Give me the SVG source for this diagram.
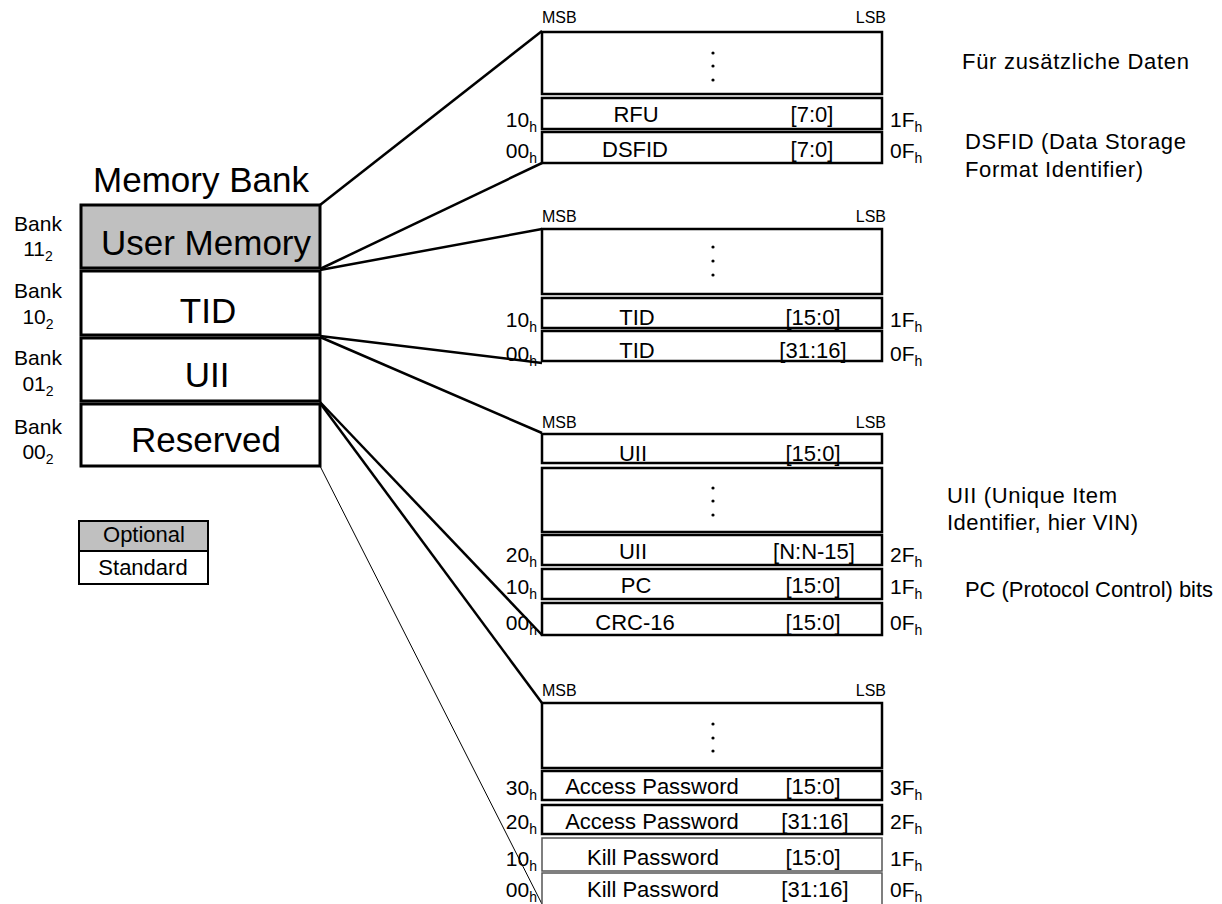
<svg xmlns="http://www.w3.org/2000/svg" width="1222" height="904" viewBox="0 0 1222 904">
<style>
.t{font-family:"Liberation Sans",Arial,sans-serif;fill:#000}
.box{fill:#fff;stroke:#000;stroke-width:3}
.opt{fill:#c0c0c0}
.row{fill:#fff;stroke:#000;stroke-width:2.5}
.thin{stroke:#555;stroke-width:1.5}
.conn{stroke:#000;stroke-width:2.5;fill:none}
.cthin{stroke-width:1}
.big{font-size:35px}
.bank{font-size:21px;text-anchor:middle}
.rl{font-size:22px;text-anchor:middle}
.adl{font-size:21px;text-anchor:end}
.adr{font-size:21px}
.sb{font-size:16px}
.desc{font-size:22px}
.lg{font-size:22px;text-anchor:middle}
.dot{fill:#000}
</style>
<rect width="1222" height="904" fill="#fff"/>

<g id="connectors">
<line class="conn" x1="320" y1="205" x2="542" y2="31"/>
<line class="conn" x1="320" y1="269" x2="542" y2="163"/>
<line class="conn" x1="320" y1="270" x2="542" y2="229"/>
<line class="conn" x1="320" y1="336" x2="542" y2="363"/>
<line class="conn" x1="320" y1="337" x2="542" y2="433"/>
<line class="conn" x1="320" y1="402" x2="542" y2="635"/>
<line class="conn" x1="320" y1="403" x2="542" y2="703"/>
<line class="conn cthin" x1="320" y1="466" x2="544" y2="908"/>
</g>

<g id="memory-bank-title">
<text class="t big" x="201" y="192" text-anchor="middle">Memory Bank</text>
</g>

<g id="bank-user-memory">
<rect class="box opt" x="81" y="205" width="239" height="63"/>
<text class="t big" x="206" y="255" text-anchor="middle">User Memory</text>
<text class="t bank" x="38" y="231">Bank</text>
<text class="t bank" x="38" y="256">11<tspan font-size="14" dy="5">2</tspan></text>
</g>
<g id="bank-tid">
<rect class="box" x="81" y="271" width="239" height="64"/>
<text class="t big" x="208" y="323" text-anchor="middle">TID</text>
<text class="t bank" x="38" y="298">Bank</text>
<text class="t bank" x="38" y="324">10<tspan font-size="14" dy="5">2</tspan></text>
</g>
<g id="bank-uii">
<rect class="box" x="81" y="338" width="239" height="63"/>
<text class="t big" x="207" y="387" text-anchor="middle">UII</text>
<text class="t bank" x="38" y="365">Bank</text>
<text class="t bank" x="38" y="391">01<tspan font-size="14" dy="5">2</tspan></text>
</g>
<g id="bank-reserved">
<rect class="box" x="81" y="404" width="239" height="62"/>
<text class="t big" x="206" y="452" text-anchor="middle">Reserved</text>
<text class="t bank" x="38" y="434">Bank</text>
<text class="t bank" x="38" y="459">00<tspan font-size="14" dy="5">2</tspan></text>
</g>

<g id="legend">
<rect x="79" y="521" width="129" height="30" fill="#c0c0c0" stroke="#000" stroke-width="2"/>
<rect x="79" y="551" width="129" height="33" fill="#fff" stroke="#000" stroke-width="2"/>
<text class="t lg" x="144" y="542">Optional</text>
<text class="t lg" x="143" y="575">Standard</text>
</g>

<g id="block-user-memory">
<text class="t sb" x="542" y="23">MSB</text>
<text class="t sb" x="886" y="23" text-anchor="end">LSB</text>
<rect class="row" x="542" y="32" width="340" height="62"/>
<circle class="dot" cx="713" cy="53" r="1.6"/>
<circle class="dot" cx="713" cy="66" r="1.6"/>
<circle class="dot" cx="713" cy="80" r="1.6"/>
<rect class="row" x="542" y="98" width="340" height="31"/>
<text class="t rl" x="636" y="122">RFU</text>
<text class="t rl" x="812" y="122">[7:0]</text>
<rect class="row" x="542" y="132" width="340" height="31"/>
<text class="t rl" x="635" y="157">DSFID</text>
<text class="t rl" x="812" y="157">[7:0]</text>
<text class="t adl" x="537" y="127">10<tspan font-size="14" dy="5">h</tspan></text>
<text class="t adl" x="537" y="158">00<tspan font-size="14" dy="5">h</tspan></text>
<text class="t adr" x="890" y="127">1F<tspan font-size="14" dy="5">h</tspan></text>
<text class="t adr" x="890" y="158">0F<tspan font-size="14" dy="5">h</tspan></text>
</g>

<g id="block-tid">
<text class="t sb" x="542" y="222">MSB</text>
<text class="t sb" x="886" y="222" text-anchor="end">LSB</text>
<rect class="row" x="542" y="229" width="340" height="65"/>
<circle class="dot" cx="713" cy="247" r="1.6"/>
<circle class="dot" cx="713" cy="261" r="1.6"/>
<circle class="dot" cx="713" cy="275" r="1.6"/>
<rect class="row" x="542" y="298" width="340" height="30"/>
<text class="t rl" x="637" y="325">TID</text>
<text class="t rl" x="813" y="325">[15:0]</text>
<rect class="row" x="542" y="331" width="340" height="30"/>
<text class="t rl" x="637" y="358">TID</text>
<text class="t rl" x="813" y="358">[31:16]</text>
<text class="t adl" x="537" y="327">10<tspan font-size="14" dy="5">h</tspan></text>
<text class="t adl" x="537" y="361">00<tspan font-size="14" dy="5">h</tspan></text>
<text class="t adr" x="890" y="327">1F<tspan font-size="14" dy="5">h</tspan></text>
<text class="t adr" x="890" y="361">0F<tspan font-size="14" dy="5">h</tspan></text>
</g>

<g id="block-uii">
<text class="t sb" x="542" y="428">MSB</text>
<text class="t sb" x="886" y="428" text-anchor="end">LSB</text>
<rect class="row" x="542" y="434" width="340" height="29"/>
<text class="t rl" x="633" y="461">UII</text>
<text class="t rl" x="813" y="461">[15:0]</text>
<rect class="row" x="542" y="468" width="340" height="64"/>
<circle class="dot" cx="713" cy="488" r="1.6"/>
<circle class="dot" cx="713" cy="501" r="1.6"/>
<circle class="dot" cx="713" cy="515" r="1.6"/>
<rect class="row" x="542" y="535" width="340" height="30"/>
<text class="t rl" x="633" y="559">UII</text>
<text class="t rl" x="814" y="559">[N:N-15]</text>
<rect class="row" x="542" y="569" width="340" height="30"/>
<text class="t rl" x="636" y="593">PC</text>
<text class="t rl" x="813" y="593">[15:0]</text>
<rect class="row" x="542" y="603" width="340" height="32"/>
<text class="t rl" x="635" y="630">CRC-16</text>
<text class="t rl" x="813" y="630">[15:0]</text>
<text class="t adl" x="537" y="562">20<tspan font-size="14" dy="5">h</tspan></text>
<text class="t adl" x="537" y="594">10<tspan font-size="14" dy="5">h</tspan></text>
<text class="t adl" x="537" y="630">00<tspan font-size="14" dy="5">h</tspan></text>
<text class="t adr" x="890" y="562">2F<tspan font-size="14" dy="5">h</tspan></text>
<text class="t adr" x="890" y="594">1F<tspan font-size="14" dy="5">h</tspan></text>
<text class="t adr" x="890" y="630">0F<tspan font-size="14" dy="5">h</tspan></text>
</g>

<g id="block-reserved">
<text class="t sb" x="542" y="696">MSB</text>
<text class="t sb" x="886" y="696" text-anchor="end">LSB</text>
<rect class="row" x="542" y="703" width="340" height="65"/>
<circle class="dot" cx="713" cy="724" r="1.6"/>
<circle class="dot" cx="713" cy="738" r="1.6"/>
<circle class="dot" cx="713" cy="751" r="1.6"/>
<rect class="row" x="542" y="771" width="340" height="29"/>
<text class="t rl" x="652" y="794">Access Password</text>
<text class="t rl" x="813" y="794">[15:0]</text>
<rect class="row" x="542" y="805" width="340" height="29"/>
<text class="t rl" x="652" y="829">Access Password</text>
<text class="t rl" x="815" y="829">[31:16]</text>
<rect class="row thin" x="542" y="838" width="340" height="33"/>
<text class="t rl" x="653" y="865">Kill Password</text>
<text class="t rl" x="813" y="865">[15:0]</text>
<rect class="row thin" x="542" y="873" width="340" height="40"/>
<text class="t rl" x="653" y="897">Kill Password</text>
<text class="t rl" x="815" y="897">[31:16]</text>
<text class="t adl" x="537" y="795">30<tspan font-size="14" dy="5">h</tspan></text>
<text class="t adl" x="537" y="829">20<tspan font-size="14" dy="5">h</tspan></text>
<text class="t adl" x="537" y="866">10<tspan font-size="14" dy="5">h</tspan></text>
<text class="t adl" x="537" y="897">00<tspan font-size="14" dy="5">h</tspan></text>
<text class="t adr" x="890" y="795">3F<tspan font-size="14" dy="5">h</tspan></text>
<text class="t adr" x="890" y="829">2F<tspan font-size="14" dy="5">h</tspan></text>
<text class="t adr" x="890" y="866">1F<tspan font-size="14" dy="5">h</tspan></text>
<text class="t adr" x="890" y="897">0F<tspan font-size="14" dy="5">h</tspan></text>
</g>

<g id="descriptions">
<text class="t desc" x="962" y="69" textLength="227">Für zusätzliche Daten</text>
<text class="t desc" x="965" y="149" textLength="221">DSFID (Data Storage</text>
<text class="t desc" x="965" y="177" textLength="178">Format Identifier)</text>
<text class="t desc" x="947" y="503" textLength="170">UII (Unique Item</text>
<text class="t desc" x="947" y="530" textLength="191">Identifier, hier VIN)</text>
<text class="t desc" x="965" y="597" textLength="248">PC (Protocol Control) bits</text>
</g>
</svg>
